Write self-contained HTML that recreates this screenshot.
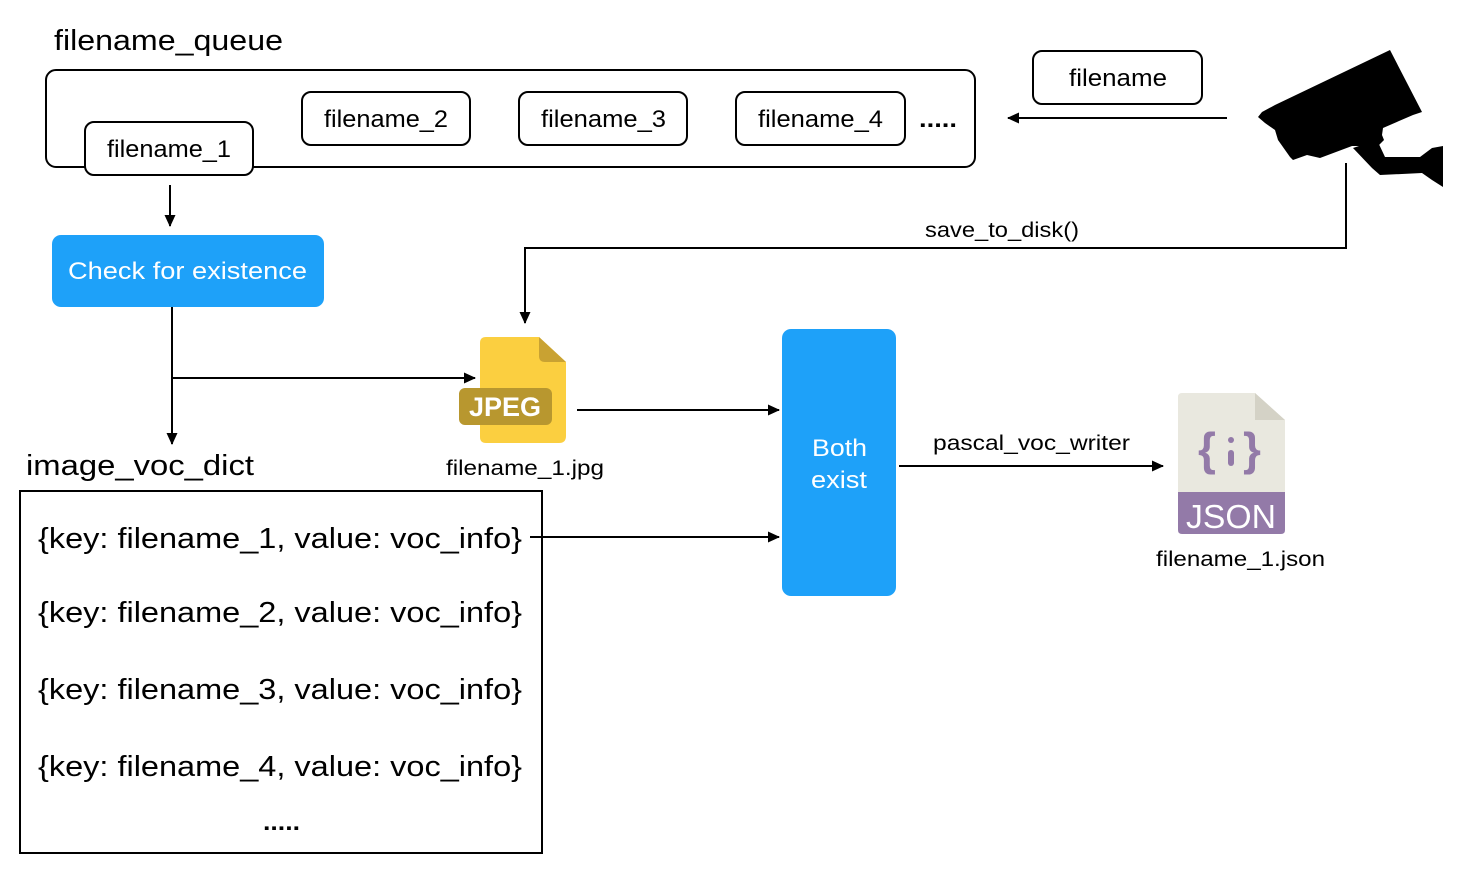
<!DOCTYPE html>
<html><head><style>
html,body{margin:0;padding:0;background:#fff;}
svg{display:block;font-family:"Liberation Sans",Arial,sans-serif;}
</style></head><body>
<svg width="1468" height="876" viewBox="0 0 1468 876" xmlns="http://www.w3.org/2000/svg">
<defs>
<marker id="a" markerWidth="12" markerHeight="12" refX="11" refY="6" orient="auto" markerUnits="userSpaceOnUse"><path d="M0,0.5 L12,6 L0,11.5 z" fill="#000"/></marker>
</defs>
<text x="54" y="50" font-size="29" textLength="229" lengthAdjust="spacingAndGlyphs">filename_queue</text>
<rect x="46" y="70" width="929" height="97" rx="10" fill="none" stroke="#000" stroke-width="2"/>
<g font-size="24" fill="#000">
<rect x="85" y="122" width="168" height="53" rx="9" fill="#fff" stroke="#000" stroke-width="2"/>
<text x="107" y="157" textLength="124" lengthAdjust="spacingAndGlyphs">filename_1</text>
<rect x="302" y="92" width="168" height="53" rx="9" fill="#fff" stroke="#000" stroke-width="2"/>
<text x="324" y="127" textLength="124" lengthAdjust="spacingAndGlyphs">filename_2</text>
<rect x="519" y="92" width="168" height="53" rx="9" fill="#fff" stroke="#000" stroke-width="2"/>
<text x="541" y="127" textLength="125" lengthAdjust="spacingAndGlyphs">filename_3</text>
<rect x="736" y="92" width="169" height="53" rx="9" fill="#fff" stroke="#000" stroke-width="2"/>
<text x="758" y="127" textLength="125" lengthAdjust="spacingAndGlyphs">filename_4</text>
<text x="919" y="127" font-weight="bold" textLength="38" lengthAdjust="spacingAndGlyphs">.....</text>
<rect x="1033" y="51" width="169" height="53" rx="9" fill="#fff" stroke="#000" stroke-width="2"/>
<text x="1069" y="86" textLength="98" lengthAdjust="spacingAndGlyphs">filename</text>
</g>
<line x1="1227" y1="118" x2="1008" y2="118" stroke="#000" stroke-width="2" marker-end="url(#a)"/>
<!-- camera -->
<path d="M1258,117 L1262,112 L1275,105 L1390,50 L1422,112 L1413,115 L1383,128 L1382,135 L1384,140 L1378,146 L1352,146 L1320,158 L1307,155 L1293,160 L1290,157 L1278,140 L1275,130 L1265,123 Z" fill="#000"/>
<path d="M1353,148 L1377,140 L1385,157 L1420,157 L1432,148 L1443,146 L1443,187 L1432,180 L1422,173 L1380,175 L1372,168 Z" fill="#000"/>
<polyline points="1346,163 1346,248 525,248 525,323" fill="none" stroke="#000" stroke-width="2" marker-end="url(#a)"/>
<text x="925" y="237" font-size="21" textLength="154" lengthAdjust="spacingAndGlyphs">save_to_disk()</text>
<line x1="170" y1="185" x2="170" y2="226" stroke="#000" stroke-width="2" marker-end="url(#a)"/>
<rect x="52" y="235" width="272" height="72" rx="9" fill="#1ea1f9"/>
<text x="68" y="279" font-size="24" fill="#fff" textLength="239" lengthAdjust="spacingAndGlyphs">Check for existence</text>
<line x1="172" y1="307" x2="172" y2="444" stroke="#000" stroke-width="2" marker-end="url(#a)"/>
<line x1="172" y1="378" x2="475" y2="378" stroke="#000" stroke-width="2" marker-end="url(#a)"/>
<!-- jpeg -->
<path d="M486,337 L539,337 L566,362 L566,436 Q566,443 559,443 L486,443 Q480,443 480,437 L480,343 Q480,337 486,337 Z" fill="#fbcf40"/>
<path d="M539,337 L566,362 L545,362 Q539,362 539,356 Z" fill="#c9a232"/>
<rect x="459" y="388" width="93" height="37" rx="6" fill="#b8972f"/>
<text x="505" y="416" font-size="27" font-weight="bold" fill="#fff" text-anchor="middle">JPEG</text>
<text x="446" y="475" font-size="21" textLength="158" lengthAdjust="spacingAndGlyphs">filename_1.jpg</text>
<line x1="577" y1="410" x2="779" y2="410" stroke="#000" stroke-width="2" marker-end="url(#a)"/>
<rect x="782" y="329" width="114" height="267" rx="9" fill="#1ea1f9"/>
<text x="812" y="456" font-size="24" fill="#fff" textLength="55" lengthAdjust="spacingAndGlyphs">Both</text>
<text x="811" y="488" font-size="24" fill="#fff" textLength="56" lengthAdjust="spacingAndGlyphs">exist</text>
<line x1="899" y1="466" x2="1163" y2="466" stroke="#000" stroke-width="2" marker-end="url(#a)"/>
<text x="933" y="450" font-size="21" textLength="197" lengthAdjust="spacingAndGlyphs">pascal_voc_writer</text>
<!-- json -->
<path d="M1182,393 L1255,393 L1285,420 L1285,492 L1178,492 L1178,397 Q1178,393 1182,393 Z" fill="#e9e8df"/>
<path d="M1255,393 L1285,420 L1255,420 Z" fill="#d4d2c6"/>
<path d="M1178,492 L1285,492 L1285,530 Q1285,534 1281,534 L1182,534 Q1178,534 1178,530 Z" fill="#937aa8"/>
<text x="1231" y="528" font-size="33" fill="#fff" text-anchor="middle" textLength="90" lengthAdjust="spacingAndGlyphs">JSON</text>
<text x="1198" y="465" font-size="46" fill="#937aa8" font-weight="bold">{</text>
<text x="1243" y="465" font-size="46" fill="#937aa8" font-weight="bold">}</text>
<rect x="1228" y="437" width="6" height="6" rx="3" fill="#937aa8"/>
<rect x="1228" y="450" width="6" height="16" rx="3" fill="#937aa8"/>
<text x="1156" y="566" font-size="21" textLength="169" lengthAdjust="spacingAndGlyphs">filename_1.json</text>
<text x="26" y="475" font-size="29" textLength="228" lengthAdjust="spacingAndGlyphs">image_voc_dict</text>
<rect x="20" y="491" width="522" height="362" fill="none" stroke="#000" stroke-width="2"/>
<g font-size="29">
<text x="38" y="548" textLength="484" lengthAdjust="spacingAndGlyphs">{key: filename_1, value: voc_info}</text>
<text x="38" y="622" textLength="484" lengthAdjust="spacingAndGlyphs">{key: filename_2, value: voc_info}</text>
<text x="38" y="699" textLength="484" lengthAdjust="spacingAndGlyphs">{key: filename_3, value: voc_info}</text>
<text x="38" y="776" textLength="484" lengthAdjust="spacingAndGlyphs">{key: filename_4, value: voc_info}</text>
<text x="263" y="830" font-weight="bold" font-size="24" textLength="37" lengthAdjust="spacingAndGlyphs">.....</text>
</g>
<line x1="530" y1="537" x2="779" y2="537" stroke="#000" stroke-width="2" marker-end="url(#a)"/>
</svg>
</body></html>
